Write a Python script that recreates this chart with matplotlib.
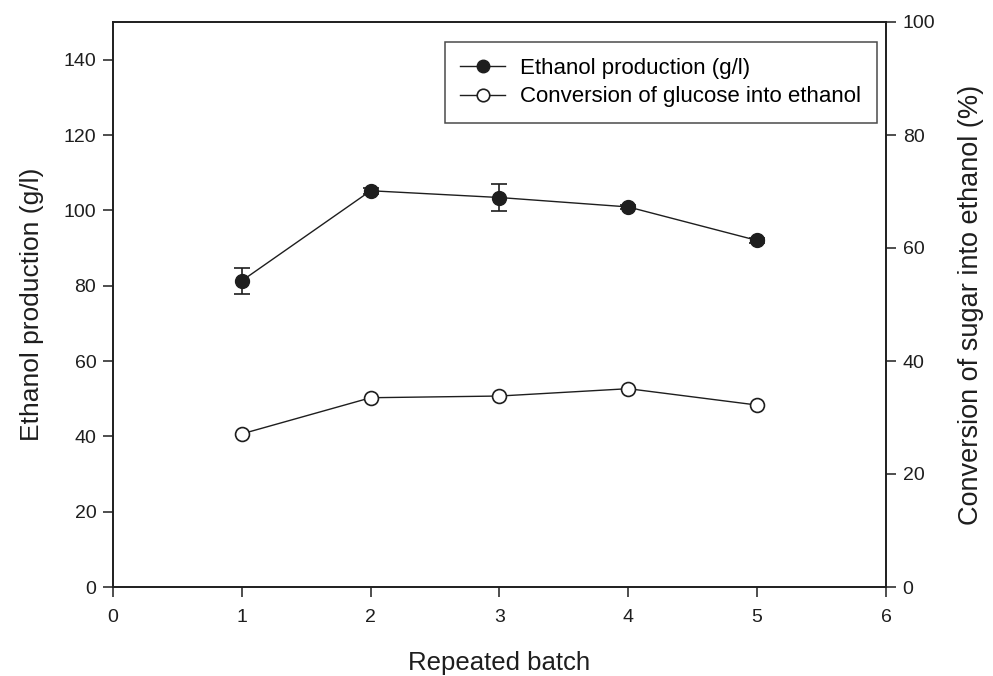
import matplotlib
matplotlib.use("Agg")
import matplotlib.pyplot as plt
from matplotlib.lines import Line2D

# Repeated-batch fermentation results
batches = [1, 2, 3, 4, 5]
ethanol_gl = [81.3, 105.2, 103.4, 100.9, 92.0]
ethanol_err = [3.5, 0.8, 3.7, 0.6, 0.6]
conversion_pct = [27.1, 33.5, 33.8, 35.1, 32.2]

x_ticks = [0, 1, 2, 3, 4, 5, 6]
left_ticks = [0, 20, 40, 60, 80, 100, 120, 140]
right_ticks = [0, 20, 40, 60, 80, 100]

sans = ["Liberation Sans", "Arimo", "DejaVu Sans"]
ink = "#1e1e1e"

fig = plt.figure(figsize=(9.93, 6.76), dpi=100)
ax = fig.add_axes([113 / 993, 1 - 587 / 676, (886 - 113) / 993, (587 - 22) / 676])
ax2 = ax.twinx()

ax.set_xlim(0, 6)
ax.set_ylim(0, 150)
ax2.set_ylim(0, 100)

ax.errorbar(batches, ethanol_gl, yerr=ethanol_err, color=ink,
            marker="o", markersize=10, markerfacecolor=ink, markeredgecolor=ink,
            linewidth=1.0, elinewidth=1.2, capsize=5.5, capthick=1.2, zorder=3)
ax2.plot(batches, conversion_pct, color=ink, marker="o",
         markersize=10, markerfacecolor="white", markeredgecolor=ink,
         markeredgewidth=1.2, linewidth=1.0, zorder=3)

ax.set_xticks(x_ticks)
ax.set_yticks(left_ticks)
ax2.set_yticks(right_ticks)

for a in (ax, ax2):
    for s in a.spines.values():
        s.set_linewidth(1.2)
        s.set_color(ink)
    a.tick_params(direction="out", length=7, width=1.1, pad=5, colors=ink)
ax.tick_params(axis="x", top=False, pad=9)

for lab in ax.get_xticklabels() + ax.get_yticklabels() + ax2.get_yticklabels():
    lab.set_family(sans)
    lab.set_fontsize(14)

ax.set_xlabel("Repeated batch", family=sans, fontsize=18.5, labelpad=18,
              color=ink)
ax.set_ylabel("Ethanol production (g/l)", family=sans, fontsize=19,
              labelpad=14, color=ink)
ax2.set_ylabel("Conversion of sugar into ethanol (%)", family=sans,
               fontsize=19.5, labelpad=16, color=ink)

handles = [
    Line2D([], [], color=ink, marker="o", markersize=9, markerfacecolor=ink,
           linewidth=1.0),
    Line2D([], [], color=ink, marker="o", markersize=9, markerfacecolor="white",
           markeredgewidth=1.2, linewidth=1.0),
]
leg = ax.legend(handles,
                ["Ethanol production (g/l)", "Conversion of glucose into ethanol"],
                loc="upper right", bbox_to_anchor=(877 / 993, 1 - 42 / 676),
                bbox_transform=fig.transFigure, borderaxespad=0,
                prop={"family": sans, "size": 16}, frameon=True,
                fancybox=False, edgecolor=ink, handlelength=2.0,
                handletextpad=0.7, borderpad=0.7, labelspacing=0.35)
leg.get_frame().set_linewidth(1.1)
leg.set_zorder(5)

fig.savefig("out.png", dpi=100, facecolor="white")
